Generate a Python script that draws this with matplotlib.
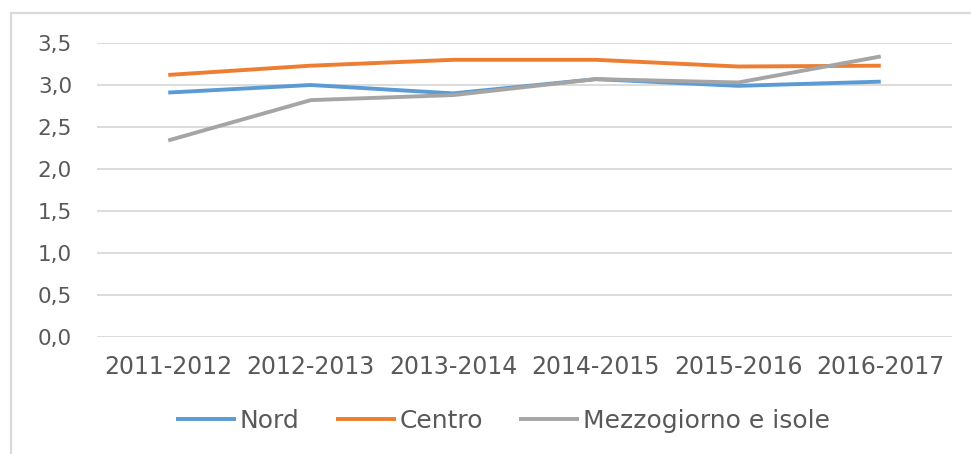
import matplotlib
matplotlib.use("Agg")
import matplotlib.pyplot as plt
from matplotlib.patches import Rectangle
import numpy as np

categories = ["2011-2012", "2012-2013", "2013-2014", "2014-2015", "2015-2016", "2016-2017"]
nord = [2.91, 3.00, 2.90, 3.07, 2.99, 3.04]
centro = [3.12, 3.23, 3.30, 3.30, 3.22, 3.23]
mezzogiorno = [2.34, 2.82, 2.88, 3.07, 3.03, 3.34]
series_names = ["Nord", "Centro", "Mezzogiorno e isole"]
y_ticks = [0.0, 0.5, 1.0, 1.5, 2.0, 2.5, 3.0, 3.5]
y_tick_labels = ["0,0", "0,5", "1,0", "1,5", "2,0", "2,5", "3,0", "3,5"]

colors = ["#5B9BD5", "#ED7D31", "#A5A5A5"]
text_color = "#595959"
grid_color = "#D9D9D9"

plt.rcParams['font.family'] = ['DejaVu Sans']

W, H = 971, 454
fig = plt.figure(figsize=(W / 100, H / 100), dpi=100)
fig.patch.set_facecolor("white")

# chart border
fig.patches.append(Rectangle((11 / W, 1 - 460 / H), (990 - 11) / W, (460 - 13) / H,
                             transform=fig.transFigure, fill=False,
                             edgecolor=grid_color, linewidth=1.6, zorder=0))

ax = fig.add_axes([97 / W, 1 - 337 / H, (952 - 97) / W, (337 - 43) / H])
x = np.arange(len(categories))
for vals, name, c in zip([nord, centro, mezzogiorno], series_names, colors):
    ax.plot(x, vals, color=c, linewidth=2.8, label=name, solid_capstyle="butt", zorder=3)

ax.set_xlim(-0.5, len(categories) - 0.5)
ax.set_ylim(0, 3.5)
ax.set_yticks(y_ticks)
ax.set_yticklabels(y_tick_labels)
ax.set_xticks(x)
ax.set_xticklabels(categories)
ax.tick_params(axis="y", length=0, pad=18, labelsize=15.5, labelcolor=text_color)
ax.tick_params(axis="x", length=0, pad=13, labelsize=17, labelcolor=text_color)
ax.grid(axis="y", color=grid_color, linewidth=1.3)
ax.set_axisbelow(True)
for s in ax.spines.values():
    s.set_visible(False)

leg = fig.legend(loc="center", bbox_to_anchor=(503 / W, 1 - 421 / H),
                 ncol=3, frameon=False, fontsize=18, handlelength=2.4,
                 handletextpad=0.15, columnspacing=1.45)
for t in leg.get_texts():
    t.set_color(text_color)

fig.savefig("out.png", dpi=100, facecolor="white")
